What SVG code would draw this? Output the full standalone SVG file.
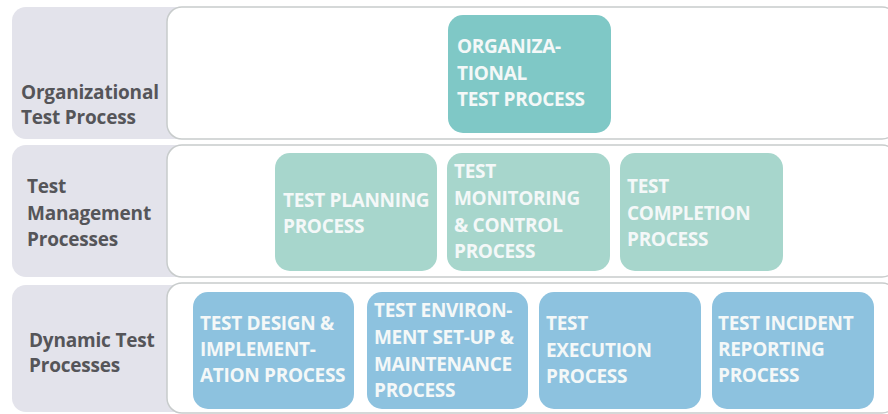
<svg xmlns="http://www.w3.org/2000/svg" width="888" height="414" viewBox="0 0 888 414">
<defs>
<style>
.panel{fill:#e3e3eb;}
.lane{fill:#ffffff;stroke:#c8cccc;stroke-width:1.5;}
.org{fill:#7fc8c6;}
.mgmt{fill:#a7d6cc;}
.dyn{fill:#8dc2df;}
.lbl{font-family:"Open Sans","Noto Sans",sans-serif;font-weight:700;font-size:19px;fill:#555559;letter-spacing:-0.2px;}
.nt{font-family:"Open Sans","Noto Sans",sans-serif;font-weight:700;font-size:19px;fill:#f4f8f8;letter-spacing:-0.3px;}
</style>
</defs>
<rect width="888" height="414" fill="#ffffff"/>
<g id="row-organizational">
<rect class="panel" x="12" y="7" width="200" height="132" rx="14"/>
<rect class="lane" x="167" y="7" width="730" height="132" rx="15"/>
<text class="lbl" x="21" y="99">Organizational</text>
<text class="lbl" x="21" y="124">Test Process</text>
</g>
<g id="row-management">
<rect class="panel" x="12" y="145" width="200" height="132" rx="14"/>
<rect class="lane" x="167" y="145" width="730" height="132" rx="15"/>
<text class="lbl" x="27" y="193">Test</text>
<text class="lbl" x="27" y="220">Management</text>
<text class="lbl" x="27" y="246">Processes</text>
</g>
<g id="row-dynamic">
<rect class="panel" x="12" y="285" width="200" height="127" rx="14"/>
<rect class="lane" x="167" y="283" width="730" height="130" rx="15"/>
<text class="lbl" x="29" y="347">Dynamic Test</text>
<text class="lbl" x="29" y="372">Processes</text>
</g>
<g id="node-organizational">
<rect class="org" x="448" y="15" width="163" height="118" rx="15"/>
<text class="nt" x="457" y="53">ORGANIZA-</text>
<text class="nt" x="457" y="80">TIONAL</text>
<text class="nt" x="457" y="106">TEST PROCESS</text>
</g>
<g id="node-planning">
<rect class="mgmt" x="275" y="153" width="162" height="118" rx="15"/>
<text class="nt" x="283" y="207">TEST PLANNING</text>
<text class="nt" x="283" y="233">PROCESS</text>
</g>
<g id="node-monitoring">
<rect class="mgmt" x="447" y="153" width="163" height="118" rx="15"/>
<text class="nt" x="454" y="178">TEST</text>
<text class="nt" x="454" y="205">MONITORING</text>
<text class="nt" x="454" y="232">&amp; CONTROL</text>
<text class="nt" x="454" y="258">PROCESS</text>
</g>
<g id="node-completion">
<rect class="mgmt" x="620" y="153" width="163" height="118" rx="15"/>
<text class="nt" x="627" y="193">TEST</text>
<text class="nt" x="627" y="220">COMPLETION</text>
<text class="nt" x="627" y="246">PROCESS</text>
</g>
<g id="node-design">
<rect class="dyn" x="193" y="292" width="161" height="117" rx="15"/>
<text class="nt" x="200" y="330">TEST DESIGN &amp;</text>
<text class="nt" x="200" y="356">IMPLEMENT-</text>
<text class="nt" x="200" y="382">ATION PROCESS</text>
</g>
<g id="node-environment">
<rect class="dyn" x="367" y="292" width="161" height="117" rx="15"/>
<text class="nt" x="374" y="317">TEST ENVIRON-</text>
<text class="nt" x="374" y="344">MENT SET-UP &amp;</text>
<text class="nt" x="374" y="371">MAINTENANCE</text>
<text class="nt" x="374" y="397">PROCESS</text>
</g>
<g id="node-execution">
<rect class="dyn" x="539" y="292" width="162" height="117" rx="15"/>
<text class="nt" x="546" y="330">TEST</text>
<text class="nt" x="546" y="357">EXECUTION</text>
<text class="nt" x="546" y="383">PROCESS</text>
</g>
<g id="node-incident">
<rect class="dyn" x="712" y="292" width="162" height="117" rx="15"/>
<text class="nt" x="718" y="330">TEST INCIDENT</text>
<text class="nt" x="718" y="356">REPORTING</text>
<text class="nt" x="718" y="382">PROCESS</text>
</g>
<g id="connectors"></g>
</svg>
